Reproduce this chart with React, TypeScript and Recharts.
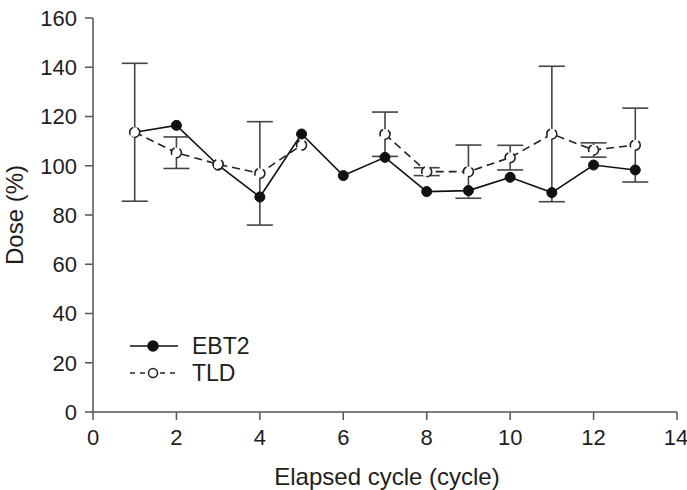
import React from "react";
import { LineChart, Line, XAxis, YAxis, ErrorBar } from "recharts";

// cycle number, measured dose (% of planned) per detector, TLD standard deviation
const cycles = [1, 2, 3, 4, 5, 6, 7, 8, 9, 10, 11, 12, 13];
const ebt2 = [113.6, 116.4, 100.2, 87.3, 112.9, 96.0, 103.4, 89.5, 89.9, 95.3, 89.1, 100.3, 98.3];
const tld = [113.6, 105.3, 100.6, 96.9, 108.4, null, 112.8, 97.6, 97.6, 103.3, 112.9, 106.4, 108.4];
const tldErr = [28, 6.4, null, 21, null, null, 9, 1.6, 10.8, 5, 27.5, 2.9, 15];

const xTicks = [0, 2, 4, 6, 8, 10, 12, 14];
const yTicks = [0, 20, 40, 60, 80, 100, 120, 140, 160];

const FONT = "'Liberation Sans', Arial, Helvetica, sans-serif";
const TEXT = "#1e1e1e";
const AXIS = "#555";

const data = cycles.map((c, i) => ({
  cycle: c,
  ebt2: ebt2[i],
  tld: tld[i],
  tldErr: tldErr[i],
}));

const legendItems = [
  { name: "EBT2", fill: "#111", stroke: "#111", dash: undefined as string | undefined },
  { name: "TLD", fill: "#fff", stroke: "#222", dash: "5 5" },
];

// small key in the lower-left corner of the plot
function LegendBox() {
  return (
    <svg
      width={150}
      height={60}
      style={{ position: "absolute", left: 120, top: 330, overflow: "visible" }}
    >
      {legendItems.map((item, i) => {
        const y = 16 + i * 27;
        return (
          <g key={item.name}>
            <line x1={10} x2={58} y1={y} y2={y} stroke={item.stroke} strokeWidth={1.6} strokeDasharray={item.dash} />
            <circle cx={33} cy={y} r={i === 0 ? 5 : 4.5} fill={item.fill} stroke={item.stroke} strokeWidth={1.5} />
            <text x={72} y={y + 8} fontSize={23} fontFamily={FONT} fill={TEXT}>
              {item.name}
            </text>
          </g>
        );
      })}
    </svg>
  );
}

// eslint-disable-next-line @typescript-eslint/no-explicit-any
const XTitle = (props: any) => {
  const { x, y, width } = props.viewBox;
  return (
    <text x={x + width / 2 + 2} y={y + 73} textAnchor="middle" fontSize={24} fontFamily={FONT} fill={TEXT}>
      Elapsed cycle (cycle)
    </text>
  );
};

// eslint-disable-next-line @typescript-eslint/no-explicit-any
const YTitle = (props: any) => {
  const { x, y, height } = props.viewBox;
  const cx = x + 23;
  const cy = y + height / 2;
  return (
    <text x={cx} y={cy} transform={`rotate(-90, ${cx}, ${cy})`} textAnchor="middle" fontSize={24} fontFamily={FONT} fill={TEXT}>
      Dose (%)
    </text>
  );
};

export default function App() {
  const tickStyle = { fontSize: 22, fontFamily: FONT, fill: TEXT };
  return (
    <div style={{ position: "absolute", left: 0, top: 0, width: 687, height: 490, background: "#fff" }}>
      <LineChart
        width={687}
        height={490}
        data={data}
        margin={{ top: 18, right: 10, left: 0, bottom: 0 }}
      >
        <XAxis
          dataKey="cycle"
          type="number"
          domain={[0, 14]}
          ticks={xTicks}
          height={78}
          tickSize={8}
          tickMargin={9}
          tick={tickStyle}
          axisLine={{ stroke: AXIS, strokeWidth: 1.5 }}
          tickLine={{ stroke: AXIS, strokeWidth: 1.5 }}
          label={<XTitle />}
        />
        <YAxis
          type="number"
          domain={[0, 160]}
          ticks={yTicks}
          width={93}
          tickSize={8}
          tickMargin={8}
          tick={tickStyle}
          axisLine={{ stroke: AXIS, strokeWidth: 1.5 }}
          tickLine={{ stroke: AXIS, strokeWidth: 1.5 }}
          label={<YTitle />}
        />
        <Line
          dataKey="ebt2"
          name="EBT2"
          stroke="#111"
          strokeWidth={1.6}
          dot={{ r: 5, fill: "#111", stroke: "#111", strokeWidth: 1 }}
          activeDot={false}
          isAnimationActive={false}
        />
        <Line
          dataKey="tld"
          name="TLD"
          stroke="#222"
          strokeWidth={1.6}
          strokeDasharray="8 5"
          dot={{ r: 5, fill: "#fff", stroke: "#222", strokeWidth: 1.6 }}
          activeDot={false}
          isAnimationActive={false}
        >
          <ErrorBar dataKey="tldErr" direction="y" width={13} stroke="#444" strokeWidth={1.6} />
        </Line>
      </LineChart>
      <LegendBox />
    </div>
  );
}
